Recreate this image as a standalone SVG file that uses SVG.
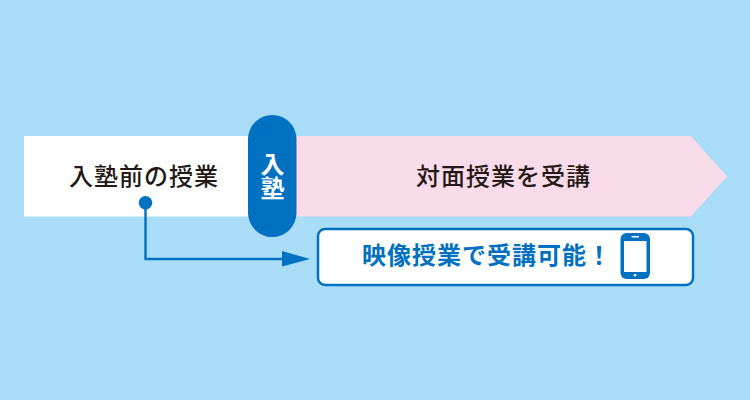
<svg xmlns="http://www.w3.org/2000/svg" width="750" height="400" viewBox="0 0 750 400">
<style>
.k{font-family:"Noto Sans CJK JP","Noto Sans",sans-serif;font-weight:500;font-size:24px;fill:#231815;letter-spacing:1px}
.b{font-family:"Noto Sans CJK JP","Noto Sans",sans-serif;font-weight:700;font-size:24px;fill:#0071c1;letter-spacing:1px}
.w{fill:#fff}
.blue{fill:#0071c1}
</style>
<rect width="750" height="400" fill="#a9dcf7"/>
<g id="before"><rect x="24" y="136" width="240" height="80.500" class="w"/><text class="k" x="69" y="185">入塾前の授業</text></g>
<g id="after"><path d="M280 138H690L724.500 176.500L690 214.500H280Z" fill="#fadbe9" stroke="#fadbe9" stroke-width="4" stroke-linejoin="round"/><text class="k" x="416" y="185">対面授業を受講</text></g>
<g id="enter"><rect x="248" y="115" width="48.500" height="122" rx="24.250" class="blue"/><text x="272.500" y="152" writing-mode="vertical-rl" font-family="'Noto Sans CJK JP',sans-serif" font-weight="700" font-size="24" class="w">入塾</text></g>
<g id="connectors"><circle cx="145.500" cy="202.800" r="6.800" class="blue"/><path d="M145.500 203V259H284" fill="none" stroke="#0071c1" stroke-width="2.400"/><path d="M282 251L310 259L282 266.500Z" class="blue"/></g>
<g id="video"><rect x="318" y="229" width="375" height="56" rx="7" class="w" stroke="#0071c1" stroke-width="2.500"/><text class="b" x="362" y="264">映像授業で受講可能！</text>
<rect x="620.500" y="233" width="29.500" height="46" rx="6" class="blue"/><rect x="624" y="241" width="22.500" height="31" class="w"/><rect x="631.500" y="236" width="7.500" height="1.500" class="w"/><circle cx="635" cy="275.200" r="1.300" class="w"/></g>
</svg>
